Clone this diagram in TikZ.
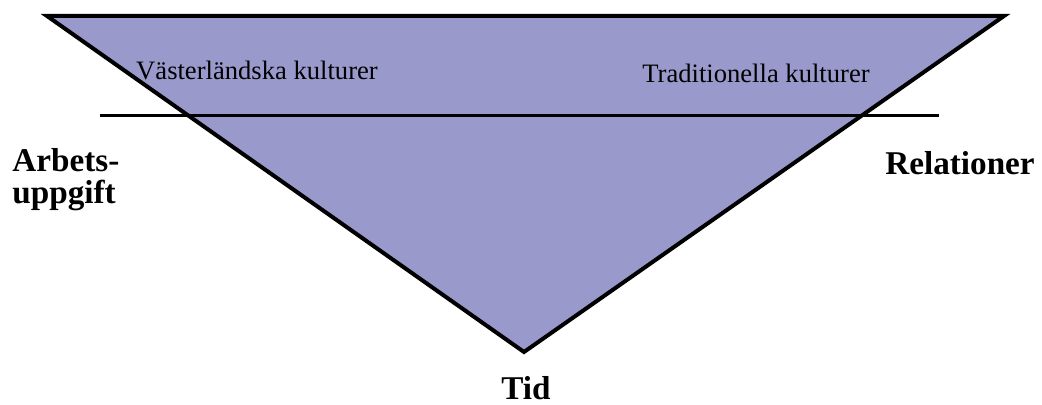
\documentclass[tikz,border=0pt]{standalone}
\usepackage{fontspec}
\setmainfont{Liberation Serif}
\usetikzlibrary{positioning}
\definecolor{tribg}{RGB}{153,153,204}
\tikzset{
  wedge/.style={draw=black, fill=tribg, line width=2pt, line join=miter},
  cutline/.style={draw=black, line width=1.5pt},
  culture/.style={inner sep=0pt, anchor=base, font=\fontsize{13.3}{16}\selectfont},
  axislabel/.style={inner sep=0pt, font=\fontsize{16.6}{16.2}\selectfont\bfseries},
}
\begin{document}
\begin{tikzpicture}[x=0.5pt, y=-0.5pt]
  \useasboundingbox (0,0) rectangle (1042,405);
  % triangle corners
  \coordinate (tl) at (47,16);
  \coordinate (tr) at (1004,16);
  \coordinate (tip) at (524,352);
  \coordinate (cutl) at (100,116);
  \coordinate (cutr) at (939,116);
  \draw[wedge] (tl) -- (tr) -- (tip) -- cycle;
  \draw[cutline] (cutl) -- (cutr);
  \node[culture] (west) at (257,80) {Västerländska kulturer};
  \node[culture] (trad) at (756,83) {Traditionella kulturer};
  \node[axislabel, anchor=north west, align=left] (task) at (12,148) {Arbets-\\uppgift};
  \node[axislabel, anchor=base] (rel) at (960,175) {Relationer};
  \node[axislabel, anchor=base] (time) at (526,399) {Tid};
\end{tikzpicture}
\end{document}
